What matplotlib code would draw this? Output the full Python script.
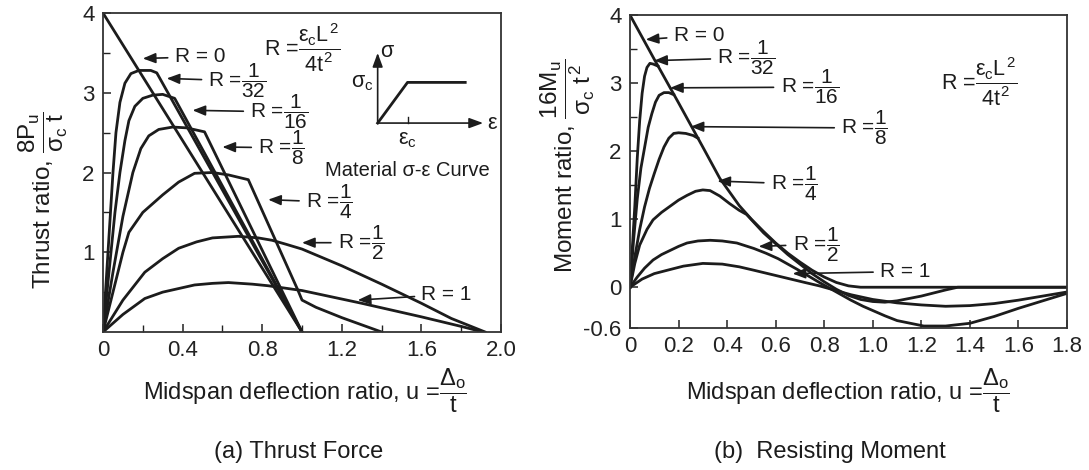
import matplotlib
matplotlib.use("Agg")
import matplotlib.pyplot as plt
from matplotlib.ticker import FixedLocator

plt.rcParams['font.family'] = ['Liberation Sans', 'DejaVu Sans']
plt.rcParams['mathtext.fontset'] = 'custom'
plt.rcParams['mathtext.rm'] = 'Liberation Sans'
plt.rcParams['mathtext.it'] = 'Liberation Sans'
plt.rcParams['mathtext.bf'] = 'Liberation Sans:bold'
plt.rcParams['mathtext.sf'] = 'Liberation Sans'

INK = '#1c1c1c'

# ---- (a) thrust ratio 8P/(sigma_c t) vs u ----
thrust_u = {
    '0':    [0, 1.0],
    '1/32': [0, 0.02, 0.035, 0.05, 0.065, 0.085, 0.11, 0.14, 0.18, 0.24, 0.27, 1.0],
    '1/16': [0, 0.03, 0.06, 0.085, 0.11, 0.13, 0.16, 0.2, 0.25, 0.3, 0.36, 1.0],
    '1/8':  [0, 0.05, 0.1, 0.15, 0.19, 0.23, 0.28, 0.35, 0.42, 0.51, 1.0],
    '1/4':  [0, 0.05, 0.1, 0.13, 0.2, 0.3, 0.38, 0.46, 0.55, 0.63, 0.73, 0.98, 1.0,
             1.07, 1.13, 1.2, 1.3, 1.4],
    '1/2':  [0, 0.05, 0.1, 0.21, 0.3, 0.38, 0.47, 0.55, 0.68, 0.78, 0.85, 0.92, 1.0,
             1.2, 1.4, 1.6, 1.75, 1.92],
    '1':    [0, 0.1, 0.21, 0.3, 0.46, 0.55, 0.63, 0.75, 0.83, 1.0, 1.3, 1.6, 1.8, 1.91],
}
thrust_y = {
    '0':    [4.0, 0.0],
    '1/32': [0, 0.8, 1.4, 2.0, 2.5, 2.88, 3.12, 3.24, 3.28, 3.28, 3.25, 0],
    '1/16': [0, 0.75, 1.5, 2.0, 2.4, 2.65, 2.83, 2.93, 2.97, 2.98, 2.93, 0],
    '1/8':  [0, 0.75, 1.45, 2.0, 2.3, 2.46, 2.54, 2.57, 2.56, 2.51, 0],
    '1/4':  [0, 0.5, 1.0, 1.25, 1.5, 1.72, 1.88, 1.99, 2.0, 1.97, 1.91, 0.52, 0.4,
             0.31, 0.25, 0.18, 0.09, 0.0],
    '1/2':  [0, 0.2, 0.4, 0.75, 0.92, 1.05, 1.13, 1.18, 1.2, 1.18, 1.15, 1.1, 1.04,
             0.83, 0.6, 0.36, 0.17, 0.0],
    '1':    [0, 0.22, 0.42, 0.5, 0.59, 0.61, 0.62, 0.6, 0.58, 0.52, 0.36, 0.19, 0.07, 0.0],
}
thrust_xticks = [0, 0.4, 0.8, 1.2, 1.6, 2.0]
thrust_xticklabels = ['0', '0.4', '0.8', '1.2', '1.6', '2.0']
thrust_yticks = [1, 2, 3, 4]

# ---- (b) moment ratio 16M/(sigma_c t^2) vs u ----
# R = 1/32, 1/16, 1/8 run along the R = 0 curve after their last point
moment_u = {
    '0':    [0, 0.1, 0.2, 0.3, 0.37, 0.45, 0.5, 0.55, 0.6, 0.65, 0.7, 0.75, 0.8, 0.85,
             0.9, 0.95, 1.0, 1.8],
    '1/32': [0, 0.01, 0.02, 0.03, 0.04, 0.05, 0.06, 0.07, 0.082, 0.095, 0.115],
    '1/16': [0, 0.015, 0.03, 0.045, 0.06, 0.075, 0.09, 0.105, 0.12, 0.14, 0.16, 0.18],
    '1/8':  [0, 0.02, 0.04, 0.06, 0.08, 0.1, 0.12, 0.14, 0.16, 0.18, 0.2, 0.23, 0.26, 0.28],
    '1/4':  [0, 0.02, 0.04, 0.07, 0.095, 0.13, 0.165, 0.2, 0.235, 0.27, 0.3, 0.33, 0.37,
             0.41, 0.45, 0.48, 0.55, 0.6, 0.65, 0.7, 0.75, 0.8, 0.85, 0.9, 0.95, 1.0,
             1.05, 1.1, 1.2, 1.3, 1.35, 1.8],
    '1/2':  [0, 0.03, 0.06, 0.095, 0.13, 0.165, 0.2, 0.235, 0.28, 0.33, 0.38, 0.44, 0.51,
             0.56, 0.61, 0.69, 0.78, 0.85, 0.91, 0.96, 1.05, 1.1, 1.21, 1.3, 1.4, 1.5,
             1.6, 1.7, 1.8],
    '1':    [0, 0.05, 0.1, 0.165, 0.22, 0.3, 0.38, 0.45, 0.51, 0.58, 0.65, 0.72, 0.78,
             0.85, 0.91, 1.0, 1.1, 1.2, 1.3, 1.4, 1.5, 1.6, 1.7, 1.8],
}
moment_y = {
    '0':    [4.0, 3.35, 2.71, 2.06, 1.6, 1.2, 1.0, 0.82, 0.65, 0.5, 0.37, 0.25, 0.15, 0.07,
             0.02, 0.0, 0.0, 0.0],
    '1/32': [0, 0.6, 1.2, 1.9, 2.45, 2.85, 3.1, 3.23, 3.29, 3.28, 3.25],
    '1/16': [0, 0.7, 1.3, 1.75, 2.05, 2.35, 2.55, 2.72, 2.82, 2.86, 2.86, 2.83],
    '1/8':  [0, 0.45, 0.85, 1.18, 1.45, 1.67, 1.88, 2.06, 2.19, 2.26, 2.27, 2.26, 2.23, 2.19],
    '1/4':  [0, 0.35, 0.62, 0.85, 0.99, 1.1, 1.19, 1.28, 1.35, 1.41, 1.43, 1.42, 1.34,
             1.23, 1.13, 1.07, 0.8, 0.64, 0.48, 0.34, 0.2, 0.08, -0.03, -0.12, -0.18, -0.21,
             -0.22, -0.2, -0.13, -0.04, 0.0, 0.0],
    '1/2':  [0, 0.15, 0.28, 0.4, 0.48, 0.54, 0.6, 0.65, 0.68, 0.69, 0.68, 0.65, 0.57,
             0.5, 0.42, 0.26, 0.07, -0.07, -0.19, -0.28, -0.42, -0.49, -0.57, -0.57, -0.53,
             -0.43, -0.31, -0.2, -0.09],
    '1':    [0, 0.12, 0.2, 0.26, 0.31, 0.35, 0.34, 0.3, 0.25, 0.19, 0.13, 0.07, 0.02,
             -0.05, -0.11, -0.18, -0.23, -0.26, -0.28, -0.27, -0.24, -0.19, -0.13, -0.07],
}
moment_xticks = [0, 0.2, 0.4, 0.6, 0.8, 1.0, 1.2, 1.4, 1.6, 1.8]
moment_xticklabels = ['0', '0.2', '0.4', '0.6', '0.8', '1.0', '1.2', '1.4', '1.6', '1.8']
moment_yticks = [-0.6, 0, 1, 2, 3, 4]
moment_yticklabels = ['-0.6', '0', '1', '2', '3', '4']

R_LABELS = {
    '0': r'R = 0', '1/32': r'R =$\dfrac{1}{32}$', '1/16': r'R =$\dfrac{1}{16}$',
    '1/8': r'R =$\dfrac{1}{8}$', '1/4': r'R =$\dfrac{1}{4}$', '1/2': r'R =$\dfrac{1}{2}$',
    '1': r'R = 1',
}
# (arrow tip, text anchor) in data units
thrust_notes = {
    '0':    ((0.20, 3.43), (0.36, 3.45)),
    '1/32': ((0.32, 3.18), (0.53, 3.15)),
    '1/16': ((0.45, 2.78), (0.74, 2.76)),
    '1/8':  ((0.60, 2.32), (0.78, 2.31)),
    '1/4':  ((0.83, 1.66), (1.02, 1.63)),
    '1/2':  ((1.00, 1.12), (1.18, 1.12)),
    '1':    ((1.28, 0.40), (1.60, 0.47)),
}
moment_notes = {
    '0':    ((0.065, 3.64), (0.18, 3.70)),
    '1/32': ((0.10, 3.33), (0.36, 3.37)),
    '1/16': ((0.165, 2.93), (0.62, 2.94)),
    '1/8':  ((0.25, 2.36), (0.87, 2.34)),
    '1/4':  ((0.36, 1.56), (0.58, 1.52)),
    '1/2':  ((0.53, 0.60), (0.67, 0.63)),
    '1':    ((0.67, 0.20), (1.03, 0.23)),
}

# material sigma-epsilon sketch inside panel (a)
sketch_origin = (1.38, 2.62)
sketch_top = 3.50
sketch_right = 1.91
sketch_curve_u = [1.38, 1.53, 1.82]
sketch_curve_y = [2.62, 3.13, 3.13]

R_FORMULA = r'R =$\dfrac{\varepsilon_c L^2}{4t^2}$'


def style_axes(ax):
    for s in ax.spines.values():
        s.set_linewidth(1.3)
        s.set_color('#333333')
    ax.tick_params(which='both', direction='in', top=False, right=False,
                   labelsize=16, colors='#222222', pad=6)
    ax.tick_params(which='major', length=6, width=1.1)
    ax.tick_params(which='minor', length=5, width=1.0)


def label_curves(ax, notes):
    for key, (tip, anchor) in notes.items():
        ax.annotate(R_LABELS[key], xy=tip, xytext=anchor, fontsize=15,
                    ha='left', va='center', color=INK,
                    arrowprops=dict(arrowstyle='-|>,head_length=0.55,head_width=0.22',
                                    color=INK, lw=1.2, shrinkA=3, shrinkB=0,
                                    mutation_scale=14))


fig = plt.figure(figsize=(10.89, 4.70), dpi=100)

# ---------------- (a) Thrust Force ----------------
ax1 = fig.add_axes([0.0946, 0.2936, 0.3655, 0.6787])
for key in thrust_u:
    ax1.plot(thrust_u[key], thrust_y[key], color=INK, lw=2.0, solid_joinstyle='round')
ax1.set_xlim(0, 2.0)
ax1.set_ylim(0, 4)
ax1.xaxis.set_major_locator(FixedLocator(thrust_xticks))
ax1.xaxis.set_minor_locator(FixedLocator([0.2, 0.6, 1.0, 1.4, 1.8]))
ax1.set_xticklabels(thrust_xticklabels)
ax1.yaxis.set_major_locator(FixedLocator(thrust_yticks))
ax1.yaxis.set_minor_locator(FixedLocator([0.5, 1.5, 2.5, 3.5]))
ax1.set_yticklabels([str(v) for v in thrust_yticks])
style_axes(ax1)
label_curves(ax1, thrust_notes)

ax1.text(0.81, 3.56, R_FORMULA, fontsize=15.5, ha='left', va='center', color=INK)

# sigma-epsilon sketch
ax1.annotate('', xy=(sketch_origin[0], sketch_top), xytext=sketch_origin,
             arrowprops=dict(arrowstyle='-|>,head_length=0.6,head_width=0.22',
                             color=INK, lw=1.2, shrinkA=0, shrinkB=0, mutation_scale=14))
ax1.annotate('', xy=(sketch_right, sketch_origin[1]), xytext=sketch_origin,
             arrowprops=dict(arrowstyle='-|>,head_length=0.6,head_width=0.22',
                             color=INK, lw=1.2, shrinkA=0, shrinkB=0, mutation_scale=14))
ax1.plot(sketch_curve_u, sketch_curve_y, color=INK, lw=2.0)
ax1.plot([sketch_curve_u[1]] * 2, [sketch_origin[1], sketch_origin[1] + 0.07],
         color=INK, lw=1.0)
ax1.text(sketch_origin[0] + 0.01, sketch_top + 0.02, r'$\sigma$', fontsize=15.5,
         ha='left', va='center', color=INK)
ax1.text(sketch_origin[0] - 0.02, sketch_curve_y[1], r'$\sigma_c$', fontsize=15.5,
         ha='right', va='center', color=INK)
ax1.text(sketch_curve_u[1], sketch_origin[1] - 0.08, r'$\varepsilon_c$', fontsize=15.5,
         ha='center', va='top', color=INK)
ax1.text(sketch_right + 0.02, sketch_origin[1], r'$\varepsilon$', fontsize=15.5,
         ha='left', va='center', color=INK)
ax1.text(1.53, 2.03, 'Material σ-ε Curve', fontsize=14.5, ha='center', va='center',
         color=INK)

# ---------------- (b) Resisting Moment ----------------
ax2 = fig.add_axes([0.5785, 0.302, 0.4013, 0.666])
for key in moment_u:
    ax2.plot(moment_u[key], moment_y[key], color=INK, lw=2.0, solid_joinstyle='round')
ax2.set_xlim(0, 1.8)
ax2.set_ylim(-0.6, 4)
ax2.xaxis.set_major_locator(FixedLocator(moment_xticks))
ax2.set_xticklabels(moment_xticklabels)
ax2.yaxis.set_major_locator(FixedLocator(moment_yticks))
ax2.yaxis.set_minor_locator(FixedLocator([0.5, 1.5, 2.5, 3.5]))
ax2.set_yticklabels(moment_yticklabels)
style_axes(ax2)
label_curves(ax2, moment_notes)

ax2.text(1.28, 3.02, R_FORMULA, fontsize=15.5, ha='left', va='center', color=INK)

# ---------------- axis titles and captions ----------------
fig.text(0.040, 0.575, r'Thrust ratio, $\dfrac{8P_u}{\sigma_c\ t}$', rotation=90,
         fontsize=17.5, ha='center', va='center', color=INK)
fig.text(0.522, 0.648, r'Moment ratio, $\dfrac{16M_u}{\sigma_c\ t^2}$', rotation=90,
         fontsize=17.5, ha='center', va='center', color=INK)
xlab = r'Midspan deflection ratio, u =$\dfrac{\Delta_o}{t}$'
fig.text(0.280, 0.168, xlab, fontsize=17, ha='center', va='center', color=INK)
fig.text(0.779, 0.168, xlab, fontsize=17, ha='center', va='center', color=INK)
fig.text(0.274, 0.038, '(a) Thrust Force', fontsize=17, ha='center', va='center',
         color=INK)
fig.text(0.762, 0.038, '(b)  Resisting Moment', fontsize=17, ha='center', va='center',
         color=INK)

fig.savefig('out.png', dpi=100, facecolor='white')
